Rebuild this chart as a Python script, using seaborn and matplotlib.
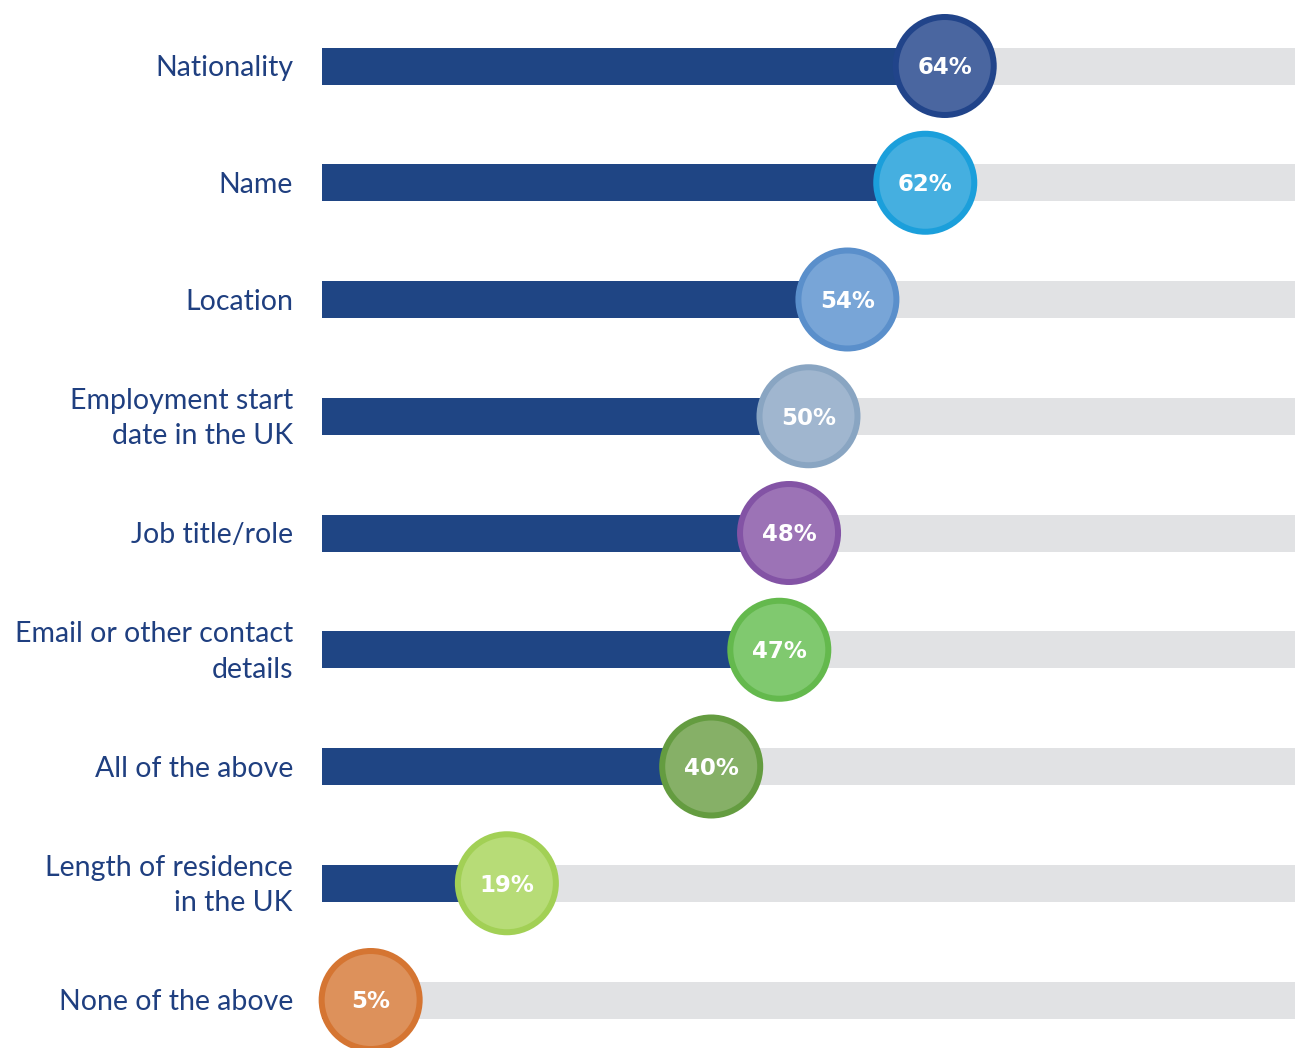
import matplotlib
matplotlib.use("Agg")
import matplotlib.pyplot as plt
import seaborn as sns
import pandas as pd
from matplotlib.transforms import blended_transform_factory

# Survey answers and their shares (%)
categories = [
    "Nationality",
    "Name",
    "Location",
    "Employment start\ndate in the UK",
    "Job title/role",
    "Email or other contact\ndetails",
    "All of the above",
    "Length of residence\nin the UK",
    "None of the above",
]
values = [64, 62, 54, 50, 48, 47, 40, 19, 5]
value_labels = ["64%", "62%", "54%", "50%", "48%", "47%", "40%", "19%", "5%"]

# Badge colours: ring and fill for each answer
ring_colors = ["#21448A", "#1B9FDB", "#5A8FCB", "#89A5C2", "#8353A5",
               "#64B94D", "#649C40", "#A2D055", "#D57532"]
fill_colors = ["#4A66A0", "#45AFE0", "#78A5D7", "#A0B6CF", "#9C73B6",
               "#80C96F", "#86B067", "#B7DC77", "#DD915B"]

track_max = 100
bar_color = "#1F4584"
track_color = "#E1E2E4"
label_color = "#1F3F80"

df = pd.DataFrame({"answer": categories, "share": values,
                   "track": [track_max] * len(values)})

sns.set_theme(style="white")
plt.rcParams["font.family"] = ["Lato", "DejaVu Sans"]

W, H = 1303, 1048
fig = plt.figure(figsize=(W / 100, H / 100), dpi=100)
ax = fig.add_axes([322 / W, 0, (1295 - 322) / W, 1])

bar_w = 37 / 116.75
sns.barplot(data=df, x="track", y="answer", orient="h", color=track_color,
            width=bar_w, ax=ax, saturation=1, linewidth=0)
sns.barplot(data=df, x="share", y="answer", orient="h", color=bar_color,
            width=bar_w, ax=ax, saturation=1, linewidth=0)

ypos = list(range(len(categories)))
# marker radius 49 px with a 6 px ring -> outer radius 52 px
r_pt = 49 * 72 / 100
ax.scatter(values, ypos, s=(2 * r_pt) ** 2, c=fill_colors,
           edgecolors=ring_colors, linewidths=6 * 72 / 100,
           zorder=5, clip_on=False)

for v, y, t in zip(values, ypos, value_labels):
    ax.text(v, y + 0.015, t, ha="center", va="center", color="white",
            fontsize=16.5, fontweight="bold", family="DejaVu Sans", zorder=6)

trans = blended_transform_factory(fig.transFigure, ax.transData)
for y, cat in zip(ypos, categories):
    ax.text(293 / W, y + 0.02, cat, transform=trans, ha="right", va="center",
            multialignment="right", color=label_color, fontsize=20.5,
            fontweight="normal", linespacing=1.45)

ax.set_xlim(0, track_max)
ax.set_ylim(8 + 48 / 116.75, -66 / 116.75)
ax.set_xlabel("")
ax.set_ylabel("")
ax.set_xticks([])
ax.set_yticks([])
for s in ax.spines.values():
    s.set_visible(False)
ax.patch.set_alpha(0)

fig.savefig("out.png", dpi=100)
